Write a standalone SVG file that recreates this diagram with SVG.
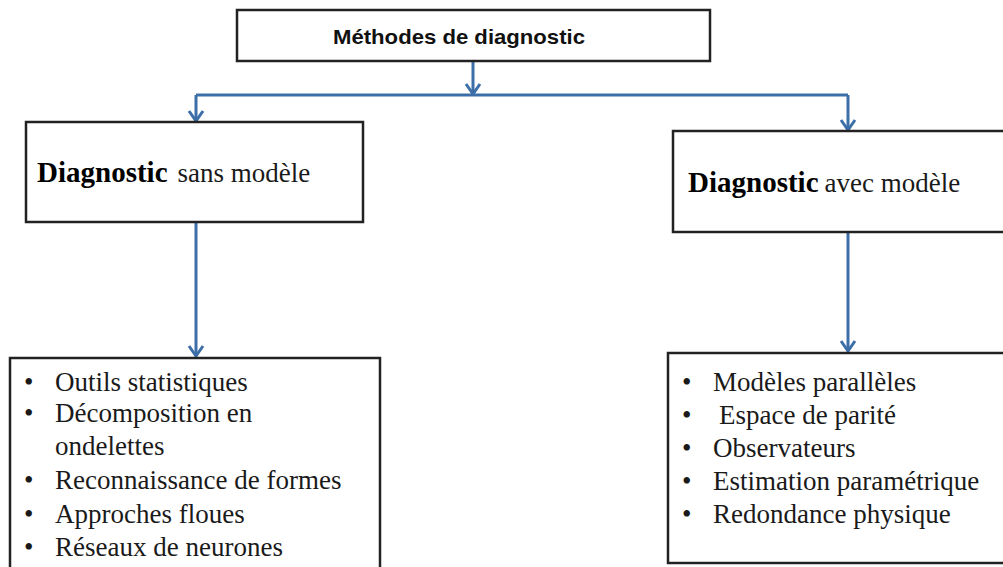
<svg xmlns="http://www.w3.org/2000/svg" width="1003" height="567" viewBox="0 0 1003 567">
<defs>
<style>
.box{fill:#fff;stroke:#222;stroke-width:2.5}
.conn{fill:none;stroke:#3c6ea8;stroke-width:3}
.serif{font-family:"Liberation Serif","Times New Roman",serif;font-size:27px;fill:#1a1a1a}
.b{font-weight:bold;fill:#000}
.top{font-family:"Liberation Sans",Arial,sans-serif;font-weight:bold;font-size:21px;fill:#111}
</style>
<marker id="arr" markerUnits="userSpaceOnUse" viewBox="-12 -10 14 20" refX="0" refY="0" markerWidth="14" markerHeight="20" orient="auto">
<path d="M-10,-7 L0,0 L-10,7" fill="none" stroke="#3c6ea8" stroke-width="3"/>
</marker>
</defs>
<rect width="1003" height="567" fill="#fff"/>
<g id="connectors">
<line class="conn" x1="473" y1="62" x2="473" y2="94" marker-end="url(#arr)"/>
<line class="conn" x1="196" y1="95" x2="848" y2="95"/>
<line class="conn" x1="196" y1="95" x2="196" y2="121" marker-end="url(#arr)"/>
<line class="conn" x1="848" y1="95" x2="848" y2="130" marker-end="url(#arr)"/>
<line class="conn" x1="196" y1="222" x2="196" y2="356" marker-end="url(#arr)"/>
<line class="conn" x1="848" y1="232" x2="848" y2="351" marker-end="url(#arr)"/>
</g>
<g id="node-methodes">
<rect class="box" x="237" y="10" width="473" height="51"/>
<text class="top" x="333" y="44" textLength="252" lengthAdjust="spacingAndGlyphs">Méthodes de diagnostic</text>
</g>
<g id="node-sans">
<rect class="box" x="26" y="122" width="337" height="100"/>
<text class="serif" x="37" y="182"><tspan class="b" font-size="29">Diagnostic</tspan><tspan dx="10">sans modèle</tspan></text>
</g>
<g id="node-avec">
<rect class="box" x="673" y="131" width="340" height="101"/>
<text class="serif" x="688" y="192"><tspan class="b" font-size="29">Diagnostic</tspan><tspan dx="6">avec modèle</tspan></text>
</g>
<g id="node-list-sans">
<rect class="box" x="10" y="358" width="370" height="220"/>
<g class="serif">
<text x="24" y="391">•</text><text x="55" y="391">Outils statistiques</text>
<text x="24" y="422">•</text><text x="55" y="422">Décomposition en</text>
<text x="55" y="455">ondelettes</text>
<text x="24" y="489">•</text><text x="55" y="489">Reconnaissance de formes</text>
<text x="24" y="523">•</text><text x="55" y="523">Approches floues</text>
<text x="24" y="556">•</text><text x="55" y="556">Réseaux de neurones</text>
</g>
</g>
<g id="node-list-avec">
<rect class="box" x="668" y="353" width="345" height="210"/>
<g class="serif">
<text x="682" y="391">•</text><text x="713" y="391">Modèles parallèles</text>
<text x="682" y="424">•</text><text x="719" y="424">Espace de parité</text>
<text x="682" y="457">•</text><text x="713" y="457">Observateurs</text>
<text x="682" y="490">•</text><text x="713" y="490">Estimation paramétrique</text>
<text x="682" y="523">•</text><text x="713" y="523">Redondance physique</text>
</g>
</g>
</svg>
